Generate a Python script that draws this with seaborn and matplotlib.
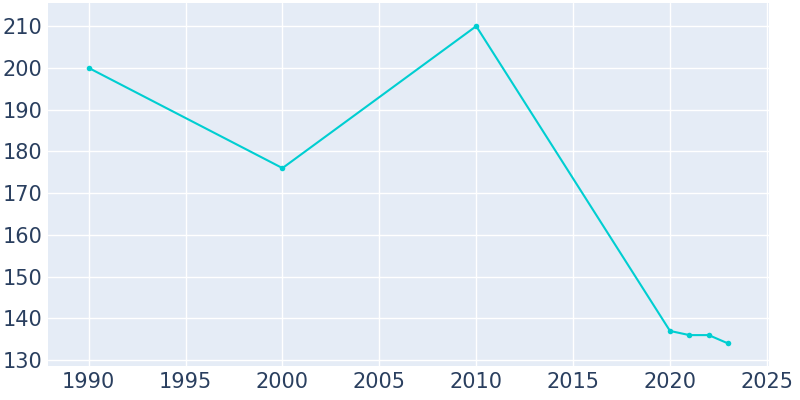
import pandas as pd
import matplotlib.pyplot as plt
import seaborn as sns

years = [1990, 2000, 2010, 2020, 2021, 2022, 2023]
population = [200, 176, 210, 137, 136, 136, 134]

df = pd.DataFrame({'year': years, 'population': population})

sns.set_theme(style='darkgrid', rc={
    'axes.facecolor': '#E5ECF6',
    'grid.color': 'white',
    'grid.linewidth': 1.0,
    'xtick.color': '#2a3f5f',
    'ytick.color': '#2a3f5f',
})
plt.rcParams['font.family'] = ['DejaVu Sans']

fig, ax = plt.subplots(figsize=(8, 4), dpi=100)
fig.patch.set_facecolor('white')
sns.lineplot(data=df, x='year', y='population', color='#00CED1',
             marker='o', markersize=4, markeredgewidth=0, linewidth=1.5, ax=ax)

ax.set_xlim(1987.9, 2025.1)
ax.set_ylim(128.6, 215.5)
ax.set_xticks(range(1990, 2026, 5))
ax.set_yticks(range(130, 211, 10))
ax.tick_params(axis='both', labelsize=15, labelcolor='#2a3f5f', length=0, pad=4)
ax.set_xlabel('')
ax.set_ylabel('')
for s in ax.spines.values():
    s.set_visible(False)

fig.subplots_adjust(left=0.06, right=0.961, top=0.992, bottom=0.085)
fig.savefig('out.png', dpi=100)
